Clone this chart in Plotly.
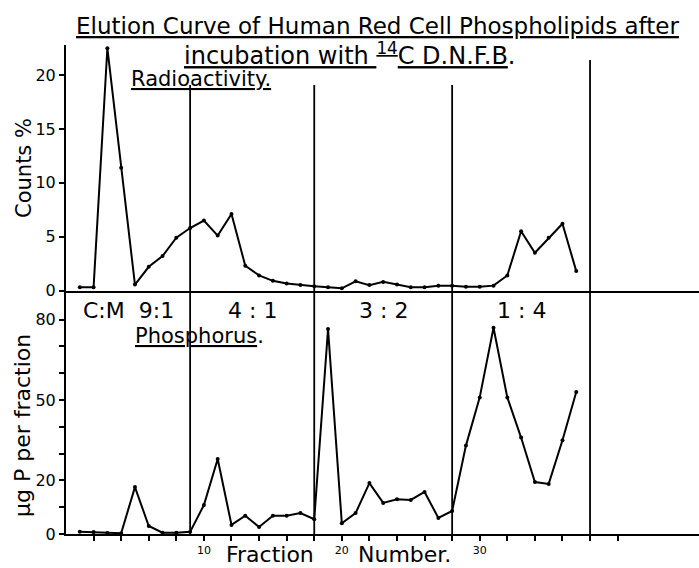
import plotly.graph_objects as go

# ---- data ----
fractions = list(range(1, 38))
radioactivity = [0.3, 0.3, 22.5, 11.4, 0.55, 2.2, 3.2, 4.9, 5.8, 6.5, 5.1, 7.1, 2.3, 1.4,
                 0.9, 0.65, 0.5, 0.4, 0.3, 0.2, 0.85, 0.5, 0.8, 0.55, 0.3, 0.3, 0.45, 0.45,
                 0.35, 0.35, 0.45, 1.4, 5.5, 3.5, 4.9, 6.2, 1.8]
phosphorus = [0.8, 0.7, 0.4, 0.3, 17.5, 3.0, 0.5, 0.5, 0.8, 10.8, 28.0, 3.4, 6.8, 2.6,
              6.8, 6.8, 7.8, 5.5, 76.5, 4.0, 7.8, 19.0, 11.6, 13.0, 12.7, 15.7, 6.0, 8.6,
              33.0, 51.0, 77.0, 51.0, 36.0, 19.4, 18.7, 35.0, 53.0]
separators = [9, 18, 28, 38]
solvent_labels = ["C:M  9:1", "4 : 1", "3 : 2", "1 : 4"]
x_labelled_ticks = [10, 20, 30]
x_minor_ticks = list(range(2, 41, 2))
top_y_ticks = [0, 5, 10, 15, 20]
bottom_y_labelled = [0, 20, 50, 80]
bottom_y_minor = list(range(0, 81, 10))

FONT = "DejaVu Sans"
W, H = 699, 568
L, R, T, B = 66, 0, 45, 34
PW, PH = W - L - R, H - T - B


def xp(px):
    return (px - L) / PW


def yp(py):
    return (H - B - py) / PH


fig = go.Figure()
line_style = dict(color="black", width=2)
marker_style = dict(color="black", size=4)

fig.add_trace(go.Scatter(x=fractions, y=radioactivity, mode="lines+markers",
                         line=line_style, marker=marker_style,
                         xaxis="x2", yaxis="y2", showlegend=False))
fig.add_trace(go.Scatter(x=fractions, y=phosphorus, mode="lines+markers",
                         line=line_style, marker=marker_style,
                         xaxis="x", yaxis="y", showlegend=False))

split = yp(290.5)
tick_common = dict(ticks="outside", ticklen=5, tickwidth=1.5, tickcolor="black")

fig.update_layout(
    width=W, height=H,
    margin=dict(l=L, r=R, t=T, b=B),
    paper_bgcolor="white", plot_bgcolor="white",
    font=dict(family=FONT, color="black"),
    xaxis=dict(domain=[0, 1], range=[0, 45.9], anchor="y",
               showline=True, linecolor="black", linewidth=2,
               showgrid=False, zeroline=False, **tick_common,
               tickmode="array", tickvals=x_labelled_ticks,
               tickfont=dict(size=11, family=FONT),
               minor=dict(tickmode="array", tickvals=x_minor_ticks, ticks="outside",
                          ticklen=5, tickwidth=1.5, tickcolor="black", showgrid=False)),
    xaxis2=dict(domain=[0, 1], matches="x", anchor="y2",
                showline=True, linecolor="black", linewidth=2,
                showgrid=False, zeroline=False, showticklabels=False, ticks=""),
    yaxis=dict(domain=[0, split], range=[0, 90.9], anchor="x",
               showline=True, linecolor="black", linewidth=2,
               showgrid=False, zeroline=False, **tick_common,
               tickmode="array", tickvals=bottom_y_labelled,
               tickfont=dict(size=16, family=FONT),
               minor=dict(tickmode="array", tickvals=bottom_y_minor, ticks="outside",
                          ticklen=5, tickwidth=1.5, tickcolor="black", showgrid=False)),
    yaxis2=dict(domain=[split, 1], range=[0, 22.8], anchor="x2",
                showline=True, linecolor="black", linewidth=2,
                showgrid=False, zeroline=False, **tick_common,
                tickmode="array", tickvals=top_y_ticks,
                tickfont=dict(size=16, family=FONT)),
)

# vertical solvent-change separators spanning both panels
sep_tops = [yp(85), yp(85), yp(85), yp(60)]
for s, top in zip(separators, sep_tops):
    fig.add_shape(type="line", xref="x", yref="paper", x0=s, x1=s, y0=0, y1=top,
                  line=dict(color="black", width=1.8))

# solvent labels centred between separators
bounds = [0] + separators
for i, lab in enumerate(solvent_labels):
    mid = (bounds[i] + bounds[i + 1]) / 2
    fig.add_annotation(x=mid, xref="x", y=yp(310), yref="paper", text=lab,
                       showarrow=False, font=dict(size=22, family=FONT),
                       xanchor="center", yanchor="middle")

annots = [
    ("<u>Elution Curve of Human Red Cell Phospholipids after</u>", 377, 26, 23, 0),
    ("<u>incubation with <sup>14</sup>C D.N.F.B</u>.", 350, 54, 24, 0),
    ("<u>Radioactivity.</u>", 201, 79, 21, 0),
    ("<u>Phosphorus</u>.", 199, 336, 21, 0),
    ("Fraction", 270, 554, 22, 0),
    ("Number.", 404, 554, 22, 0),
    ("Counts %", 24, 168, 21, -90),
    ("μg P per fraction", 22, 426, 22, -90),
]
for text, px, py, size, ang in annots:
    fig.add_annotation(x=xp(px), xref="paper", y=yp(py), yref="paper", text=text,
                       showarrow=False, textangle=ang,
                       font=dict(size=size, family=FONT),
                       xanchor="center", yanchor="middle")

fig.write_html("out.html",
               config={"displayModeBar": False},
               post_script="document.body.style.margin='0px';"
                           "document.body.style.overflow='hidden';")
